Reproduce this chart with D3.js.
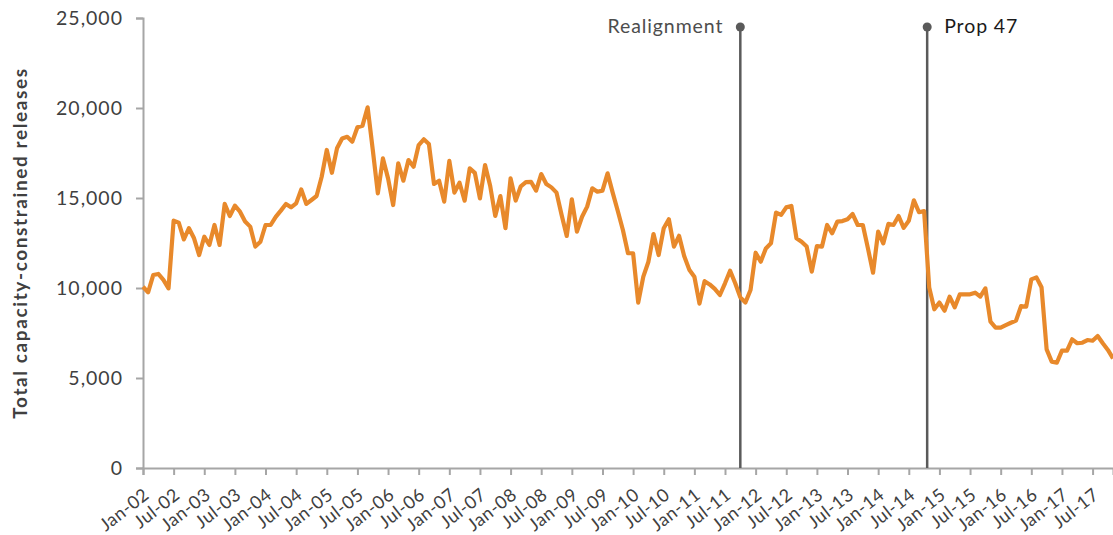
<!DOCTYPE html>
<html>
<head>
<meta charset="utf-8">
<script src="https://cdn.jsdelivr.net/npm/d3@7"></script>
<style>
  body { margin: 0; background: #fff; }
  svg { display: block; font-family: Lato, "Open Sans", sans-serif; }
</style>
</head>
<body>
<div id="chart-area"></div>
<script>
// DATA - monthly releases, Jan-02 .. Nov-17
var releases = [
    10070, 9760, 10720, 10780, 10450, 9980, 13740, 13630, 12700, 13320, 12760, 11830,
    12850, 12390, 13500, 12390, 14670, 14000, 14570, 14240, 13690, 13410, 12300, 12570,
    13500, 13500, 13950, 14300, 14670, 14480, 14700, 15480, 14670, 14890, 15110, 16180,
    17670, 16400, 17760, 18310, 18400, 18130, 18930, 19020, 20040, 17700, 15260, 17200,
    16090, 14610, 16930, 15960, 17110, 16740, 17940, 18260, 18000, 15780, 15960, 14800,
    17060, 15300, 15850, 14850, 16650, 16400, 14980, 16830, 15680, 14000, 15110, 13320,
    16090, 14860, 15650, 15880, 15900, 15410, 16330, 15780, 15590, 15300, 14060, 12890,
    14930, 13130, 13960, 14520, 15540, 15350, 15410, 16370, 15300, 14280, 13220, 11930,
    11930, 9190, 10630, 11460, 13000, 11830, 13320, 13820, 12300, 12900, 11780, 11020,
    10630, 9130, 10380, 10200, 9950, 9610, 10260, 10960, 10260, 9480, 9190, 9890,
    11960, 11460, 12200, 12480, 14190, 14060, 14480, 14560, 12760, 12570, 12300, 10910,
    12330, 12300, 13500, 13040, 13690, 13720, 13820, 14110, 13500, 13500, 12200, 10850,
    13130, 12480, 13560, 13500, 14000, 13340, 13730, 14870, 14210, 14270, 10030, 8820,
    9190, 8740, 9520, 8930, 9650, 9650, 9650, 9740, 9520, 9980, 8130, 7800,
    7800, 7940, 8070, 8190, 9000, 8960, 10480, 10590, 10040, 6590, 5910, 5850,
    6520, 6520, 7150, 6930, 6960, 7110, 7070, 7330, 6930, 6560, 6090
];

var tickLabels = ["Jan-02", "Jul-02", "Jan-03", "Jul-03", "Jan-04", "Jul-04", "Jan-05", "Jul-05",
    "Jan-06", "Jul-06", "Jan-07", "Jul-07", "Jan-08", "Jul-08", "Jan-09", "Jul-09",
    "Jan-10", "Jul-10", "Jan-11", "Jul-11", "Jan-12", "Jul-12", "Jan-13", "Jul-13",
    "Jan-14", "Jul-14", "Jan-15", "Jul-15", "Jan-16", "Jul-16", "Jan-17", "Jul-17"];

var yTicks = [0, 5000, 10000, 15000, 20000, 25000];

// policy events, position in months since Jan-02
var eventNames = ["Realignment", "Prop 47"];
var eventMonths = [117, 153.6];

var width = 1113;
var height = 535;
var margin = { top: 18, right: 0, bottom: 67, left: 143 };

var svg = d3.select("#chart-area")
    .append("svg")
    .attr("width", width)
    .attr("height", height);

// SCALES
var x = d3.scaleLinear()
    .domain([0, releases.length - 1])
    .range([margin.left, width - margin.right]);

var y = d3.scaleLinear()
    .domain([0, 25000])
    .range([height - margin.bottom, margin.top]);

var axisColor = "#a6a6a6";
var textColor = "#404040";

// Y AXIS
var leftAxis = d3.axisLeft(y)
    .tickValues(yTicks)
    .tickSize(7)
    .tickPadding(13)
    .tickFormat(d3.format(","));

var gy = svg.append("g")
    .attr("transform", "translate(" + margin.left + ",0)")
    .call(leftAxis);
gy.select(".domain").attr("stroke", axisColor).attr("stroke-width", 2);
gy.selectAll(".tick line").attr("stroke", axisColor).attr("stroke-width", 2);
gy.selectAll(".tick text")
    .attr("fill", textColor)
    .attr("font-size", "19.5px")
    .attr("letter-spacing", "1px")
    .attr("font-family", "Lato, sans-serif");

// X AXIS
var bottomAxis = d3.axisBottom(x)
    .tickValues(d3.range(0, tickLabels.length * 6, 6))
    .tickSize(7)
    .tickFormat((d, i) => tickLabels[i]);

var gx = svg.append("g")
    .attr("transform", "translate(0," + y(0) + ")")
    .call(bottomAxis);
gx.select(".domain").attr("stroke", axisColor).attr("stroke-width", 2);
gx.selectAll(".tick line").attr("stroke", axisColor).attr("stroke-width", 2);
gx.selectAll(".tick text")
    .attr("fill", textColor)
    .attr("font-size", "18px")
    .attr("letter-spacing", "0.5px")
    .attr("font-family", "Lato, sans-serif")
    .attr("text-anchor", "end")
    .attr("y", 0)
    .attr("dy", 0)
    .attr("transform", "translate(7,29) rotate(-38)");

// Y axis title
svg.append("text")
    .attr("transform", "translate(27," + ((margin.top + y(0)) / 2) + ") rotate(-90)")
    .attr("text-anchor", "middle")
    .attr("font-size", "19px")
    .attr("letter-spacing", "1.6px")
    .attr("font-weight", "bold")
    .attr("fill", textColor)
    .text("Total capacity-constrained releases");

// EVENT MARKERS
var ev = svg.selectAll("g.event")
    .data(eventNames)
    .enter()
    .append("g")
    .attr("class", "event")
    .attr("transform", (d, i) => "translate(" + x(eventMonths[i]) + ",0)");

ev.append("line")
    .attr("y1", 27)
    .attr("y2", y(0))
    .attr("stroke", "#5a5a5a")
    .attr("stroke-width", 2.5);

ev.append("circle")
    .attr("cy", 27)
    .attr("r", 4.5)
    .attr("fill", "#5a5a5a");

ev.append("text")
    .attr("x", (d, i) => i === 0 ? -17 : 17)
    .attr("y", 33)
    .attr("text-anchor", (d, i) => i === 0 ? "end" : "start")
    .attr("font-size", "19.5px")
    .attr("letter-spacing", "0.9px")
    .attr("fill", (d, i) => i === 0 ? "#4d4d4d" : "#1a1a1a")
    .text(d => d);

// LINE
var line = d3.line()
    .x((d, i) => x(i))
    .y(d => y(d));

svg.append("path")
    .datum(releases)
    .attr("fill", "none")
    .attr("stroke", "#e8892b")
    .attr("stroke-width", 4.2)
    .attr("stroke-linejoin", "round")
    .attr("d", line);
</script>
</body>
</html>
